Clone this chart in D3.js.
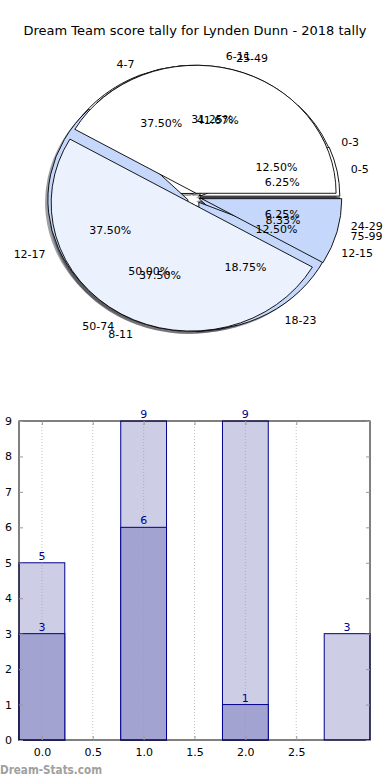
<!DOCTYPE html>
<html><head><meta charset="utf-8">
<script src="https://cdn.jsdelivr.net/npm/d3@7"></script>
<style>
body{margin:0;background:#fff;}
svg{display:block;font-family:"DejaVu Sans",sans-serif;}
</style></head>
<body><svg id="c" width="390" height="780"></svg>
<script>
// ---------- data ----------
const title = "Dream Team score tally for Lynden Dunn - 2018 tally";
const pie1Labels = ["0-3","4-7","8-11","12-15"];
const pie1Values = [2,6,6,2];
const pie2Labels = ["0-5","6-11","12-17","18-23","24-29"];
const pie2Values = [1,5,6,3,1];
const pie3Labels = ["25-49","50-74","75-99"];
const pie3Values = [5,6,1];
const barCats = [0,1,2,3];
const barBackValues = [5,9,9,3];
const barFrontValues = [3,6,1,0];
const xTickValues = [0,0.5,1,1.5,2,2.5];
const yTickValues = [0,1,2,3,4,5,6,7,8,9];

// ---------- style ----------
const WHITE="#ffffff", LIGHT="#ebf1fd", MED="#c5d8fc";
const pieStyles = [
  {colors:[WHITE,WHITE,LIGHT,MED], explode:[0.03,0.03,0.055,0.03]},
  {colors:[WHITE,WHITE,MED,MED,MED], explode:[0.035,0.03,0.055,0.05,0.035]},
  {colors:[WHITE,LIGHT,MED], explode:[0.03,0.055,0.05]}
];
const pies = [
  {labels:pie1Labels, values:pie1Values},
  {labels:pie2Labels, values:pie2Values},
  {labels:pie3Labels, values:pie3Values}
];

const svg = d3.select("#c");
svg.append("text").attr("x",195).attr("y",35).attr("text-anchor","middle")
  .attr("font-size",13).attr("fill","#000").text(title);

// ---------- pies ----------
const cx=195, cy=197, rx=140, ry=128;
const pieGen = d3.pie().sort(null).value(d=>d).startAngle(Math.PI/2).endAngle(Math.PI/2-2*Math.PI);
const arc = d3.arc().innerRadius(0).outerRadius(rx);
const computed = pies.map((p,i)=>{
  const arcs = pieGen(p.values);
  const total = d3.sum(p.values);
  return arcs.map((a,j)=>{
    const m=(a.startAngle+a.endAngle)/2;
    const e=pieStyles[i].explode[j];
    return {a, m, dx:e*rx*Math.sin(m), dy:-e*ry*Math.cos(m), e,
            color:pieStyles[i].colors[j], label:p.labels[j],
            pct:(100*p.values[j]/total).toFixed(2)+"%"};
  });
});
const shadowLayer = svg.append("g");
const pieLayer = svg.append("g");
const labelLayer = svg.append("g");
const shOffX=-0.02*rx, shOffY=0.02*ry;
computed.forEach(ws=>{
  ws.forEach(w=>{
    const c=d3.rgb(w.color);
    shadowLayer.append("path")
      .attr("transform",`translate(${cx+w.dx+shOffX},${cy+w.dy+shOffY}) scale(1,${ry/rx})`)
      .attr("d",arc(w.a))
      .attr("fill",d3.rgb(c.r*0.3,c.g*0.3,c.b*0.3))
      .attr("fill-opacity",0.5);
  });
});
computed.forEach(ws=>{
  ws.forEach(w=>{
    pieLayer.append("path")
      .attr("transform",`translate(${cx+w.dx},${cy+w.dy}) scale(1,${ry/rx})`)
      .attr("d",arc(w.a))
      .attr("fill",w.color).attr("stroke","#000").attr("stroke-width",0.9)
      .attr("vector-effect","non-scaling-stroke").attr("stroke-linejoin","round");
  });
});
computed.forEach(ws=>{
  ws.forEach(w=>{
    const sx=Math.sin(w.m), sy=-Math.cos(w.m);
    const lx=cx+w.dx+1.1*rx*sx, ly=cy+w.dy+1.1*ry*sy+1;
    labelLayer.append("text").attr("x",lx).attr("y",ly)
      .attr("text-anchor", sx>0?"start":"end").attr("dominant-baseline","central")
      .attr("font-size",11).attr("fill","#000").text(w.label);
    const px=cx+w.dx+0.6*rx*sx, py=cy+w.dy+0.6*ry*sy+1.5;
    labelLayer.append("text").attr("x",px).attr("y",py)
      .attr("text-anchor","middle").attr("dominant-baseline","central")
      .attr("font-size",11).attr("fill","#000").text(w.pct);
  });
});

// ---------- bar chart ----------
const L=19,R=370,T=421,B=740;
const x = d3.scaleLinear().domain([-0.225,3.225]).range([L,R]);
const y = d3.scaleLinear().domain([0,9]).range([B,T]);
const bw = 0.45;
const barG = svg.append("g");
function drawBars(vals, fill){
  barCats.forEach((c,i)=>{
    if(vals[i]<=0) return;
    barG.append("rect")
      .attr("x",x(c-bw/2)).attr("y",y(vals[i]))
      .attr("width",x(c+bw/2)-x(c-bw/2)).attr("height",y(0)-y(vals[i]))
      .attr("fill",fill).attr("stroke","#00008b").attr("stroke-width",1);
  });
}
drawBars(barBackValues,"#cdcde6");
drawBars(barFrontValues,"#a3a3d1");
// grid
svg.append("g").selectAll("line").data(xTickValues).join("line")
  .attr("x1",d=>x(d)).attr("x2",d=>x(d)).attr("y1",T).attr("y2",B)
  .attr("stroke","#999").attr("stroke-opacity",0.6).attr("stroke-width",1)
  .attr("stroke-dasharray","1,2");
// value labels
function drawVals(vals){
  barCats.forEach((c,i)=>{
    if(vals[i]<=0) return;
    svg.append("text").attr("x",x(c)).attr("y",y(vals[i])-3)
      .attr("text-anchor","middle").attr("font-size",11).attr("fill","#00008b")
      .text(vals[i]);
  });
}
drawVals(barBackValues);
drawVals(barFrontValues);
// frame
svg.append("rect").attr("x",L).attr("y",T).attr("width",R-L).attr("height",B-T)
  .attr("fill","none").attr("stroke","#000").attr("stroke-width",1);
// axes ticks
const yAxisL = d3.axisLeft(y).tickValues(yTickValues).tickSizeInner(-4).tickSizeOuter(0).tickPadding(7);
const gy = svg.append("g").attr("transform",`translate(${L},0)`).call(yAxisL);
const yAxisR = d3.axisRight(y).tickValues(yTickValues).tickSizeInner(-4).tickSizeOuter(0).tickFormat("");
const gyr = svg.append("g").attr("transform",`translate(${R},0)`).call(yAxisR);
const xAxisB = d3.axisBottom(x).tickValues(xTickValues).tickSizeInner(-4).tickSizeOuter(0).tickPadding(8).tickFormat(d3.format(".1f"));
const gx = svg.append("g").attr("transform",`translate(0,${B})`).call(xAxisB);
const xAxisT = d3.axisTop(x).tickValues(xTickValues).tickSizeInner(-4).tickSizeOuter(0).tickFormat("");
const gxt = svg.append("g").attr("transform",`translate(0,${T})`).call(xAxisT);
[gy,gyr,gx,gxt].forEach(g=>{
  g.select(".domain").remove();
  g.selectAll(".tick line").attr("stroke","#999");
  g.selectAll("text").attr("font-size",11).attr("fill","#000").attr("font-family","DejaVu Sans, sans-serif");
});
// watermark
svg.append("text").attr("x",0).attr("y",774).attr("font-size",12).attr("font-weight","600")
  .attr("fill","#a0a0a0").attr("textLength",102).attr("lengthAdjust","spacingAndGlyphs")
  .text("Dream-Stats.com");
</script></body></html>
